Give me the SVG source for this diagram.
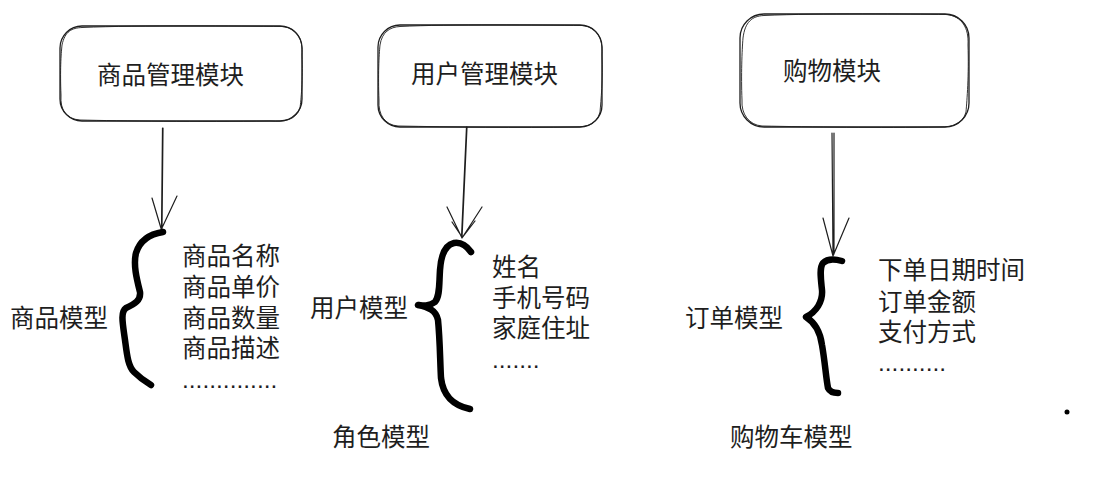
<svg xmlns="http://www.w3.org/2000/svg" width="1106" height="477" viewBox="0 0 1106 477">
<style>
.box{fill:#fff;stroke:#1e1e1e;stroke-width:1.3;}
.box2{fill:none;stroke:#1e1e1e;stroke-width:0.9;}
.t{font-family:"Noto Sans CJK SC","Noto Sans",sans-serif;font-size:24.5px;fill:#1e1e1e;}
.l{font-family:"Liberation Sans","Noto Sans CJK SC",sans-serif;font-size:24.5px;fill:#1e1e1e;}
.arr{fill:none;stroke:#1e1e1e;stroke-width:1.2;stroke-linecap:round;}
.brace{fill:none;stroke:#000;stroke-width:6.5;stroke-linecap:round;stroke-linejoin:round;}
</style>
<rect width="1106" height="477" fill="#fff"/>
<g id="node-goods-module">
<rect class="box" x="60" y="26" width="242" height="95" rx="22"/>
<path class="box2" d="M82 27.5 C140 25 240 26 282 26.5 C298 28 303 40 302 55 C303 80 301 100 300 108 C296 120 285 122 270 121 C200 122 120 121 80 120 C66 119 60 110 61 95 C60 70 61 55 62 45 C65 31 72 28 82 27.5"/>
<text class="t" x="97" y="84">商品管理模块</text>
</g>
<g id="node-user-module">
<rect class="box" x="378" y="25" width="224" height="102" rx="22"/>
<path class="box2" d="M400 26.5 C450 24 540 25 582 25.5 C597 27 603 38 602 55 C603 80 601 100 600 112 C597 124 588 127 575 127 C520 128 450 127 398 126 C385 125 378 115 379 100 C378 75 379 55 380 45 C382 32 390 27 400 26.5"/>
<text class="t" x="411" y="83">用户管理模块</text>
</g>
<g id="node-shop-module">
<rect class="box" x="740" y="14" width="229" height="113" rx="24"/>
<path class="box2" d="M764 15.5 C820 13 910 14 946 14.5 C962 16 969 28 968 45 C969 75 967 100 966 112 C963 124 952 127 940 127 C880 128 810 127 762 126 C749 125 741 114 742 100 C741 75 742 50 743 38 C745 22 752 16 764 15.5"/>
<text class="t" x="783" y="80">购物模块</text>
</g>
<g id="connectors">
<path class="arr" d="M162.5 128 L161.5 229 M152 198 L161.5 230 M177 196 L161 230 M163 128 L162 229"/>
<path class="arr" d="M467 127 L462 238 M447 207 L462 238 M482 207 L462 238 M466.5 127 L461.5 237 M452 222 L462 237 M475 221 L462 238"/>
<path class="arr" d="M832 133 L833 256 M823 218 L833 256 M849 218 L833 256 M834 133 L834 254"/>
</g>
<g id="node-goods-model">
<path class="brace" d="M163 232 C150 234 140 240 136 253 C133 265 137 280 140 292 C141 300 135 304 126 308 C120 312 123 325 125 340 C127 355 128 366 134 372 C140 378 146 382 151 385"/>
<text class="t" x="10" y="327">商品模型</text>
<text class="l"><tspan x="182" y="265">商品名称</tspan><tspan x="182" y="296">商品单价</tspan><tspan x="182" y="327">商品数量</tspan><tspan x="182" y="357">商品描述</tspan><tspan x="182" y="388">..............</tspan></text>
</g>
<g id="node-user-model">
<path class="brace" d="M471 252 C466 245 460 242 454 243 C445 245 441 255 440 270 C439 285 440 296 435 302 C430 306 422 306 418 305 C428 307 436 310 438 320 C440 340 440 360 441 378 C443 395 452 405 470 409"/>
<text class="t" x="310" y="317">用户模型</text>
<text class="l"><tspan x="492" y="276">姓名</tspan><tspan x="492" y="307">手机号码</tspan><tspan x="492" y="337">家庭住址</tspan><tspan x="492" y="368">.......</tspan></text>
<text class="t" x="332" y="446">角色模型</text>
</g>
<g id="node-order-model">
<path class="brace" d="M842 261 C835 259 827 259 823 263 C819 268 821 280 822 290 C823 302 816 312 806 317 C814 322 820 330 822 345 C825 362 826 378 828 388 C830 392 834 393 838 393"/>
<text class="t" x="685" y="327">订单模型</text>
<text class="l"><tspan x="878" y="279">下单日期时间</tspan><tspan x="878" y="311">订单金额</tspan><tspan x="878" y="341">支付方式</tspan><tspan x="878" y="371">..........</tspan></text>
<text class="t" x="730" y="446">购物车模型</text>
</g>
<circle cx="1067" cy="412" r="2.5" fill="#000"/>
</svg>
